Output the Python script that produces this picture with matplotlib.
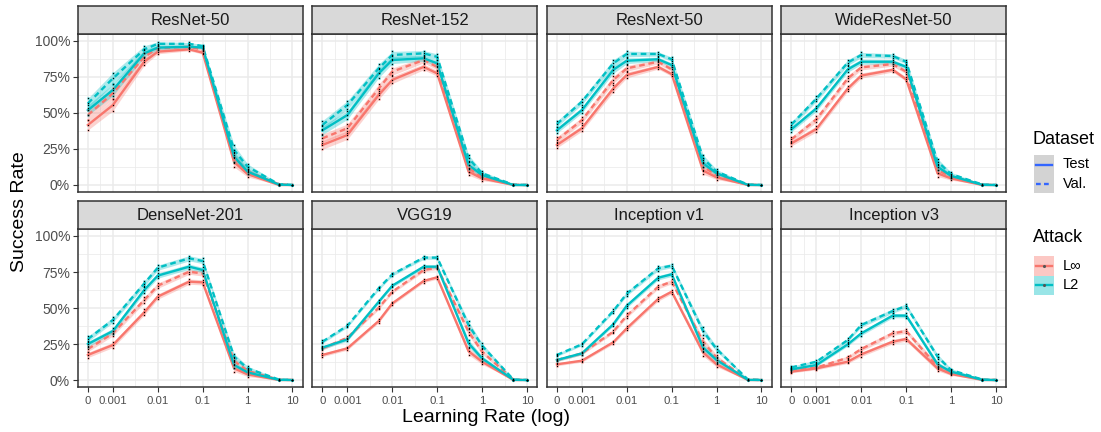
import numpy as np
import matplotlib
matplotlib.use("Agg")
import matplotlib.pyplot as plt
from matplotlib.patches import Rectangle
from matplotlib.lines import Line2D

plt.rcParams['font.family'] = ['Liberation Sans', 'DejaVu Sans']

# ---------------- data ----------------
learning_rates = [0, 0.001, 0.005, 0.01, 0.05, 0.1, 0.5, 1, 5, 10]
x_ticks = [0, 0.001, 0.01, 0.1, 1, 10]
x_tick_labels = ["0", "0.001", "0.01", "0.1", "1", "10"]
y_ticks = [0, 0.25, 0.5, 0.75, 1.0]
y_tick_labels = ["0%", "25%", "50%", "75%", "100%"]

models = ["ResNet-50", "ResNet-152", "ResNext-50", "WideResNet-50",
          "DenseNet-201", "VGG19", "Inception v1", "Inception v3"]

# rows: [Linf Test, Linf Val., L2 Test, L2 Val.]
resnet50 = [
    [0.417, 0.555, 0.856, 0.926, 0.942, 0.919, 0.160, 0.076, 0.000, 0.000],
    [0.486, 0.637, 0.890, 0.950, 0.960, 0.940, 0.185, 0.093, 0.005, 0.000],
    [0.520, 0.660, 0.914, 0.954, 0.960, 0.954, 0.197, 0.093, 0.003, 0.000],
    [0.567, 0.740, 0.942, 0.980, 0.980, 0.965, 0.243, 0.127, 0.005, 0.000],
]
resnet152 = [
    [0.278, 0.347, 0.625, 0.730, 0.820, 0.775, 0.093, 0.046, 0.000, 0.000],
    [0.324, 0.394, 0.670, 0.787, 0.868, 0.820, 0.116, 0.058, 0.002, 0.000],
    [0.380, 0.486, 0.775, 0.868, 0.880, 0.845, 0.139, 0.069, 0.000, 0.000],
    [0.417, 0.555, 0.810, 0.903, 0.914, 0.890, 0.185, 0.081, 0.002, 0.000],
]
resnext50 = [
    [0.278, 0.394, 0.670, 0.764, 0.820, 0.770, 0.100, 0.053, 0.000, 0.000],
    [0.313, 0.450, 0.730, 0.810, 0.856, 0.803, 0.127, 0.070, 0.002, 0.000],
    [0.380, 0.520, 0.800, 0.863, 0.873, 0.833, 0.150, 0.081, 0.001, 0.000],
    [0.424, 0.579, 0.845, 0.910, 0.910, 0.873, 0.185, 0.093, 0.003, 0.000],
]
wideresnet50 = [
    [0.289, 0.389, 0.670, 0.760, 0.800, 0.734, 0.081, 0.046, 0.000, 0.000],
    [0.317, 0.456, 0.740, 0.817, 0.840, 0.787, 0.104, 0.058, 0.002, 0.000],
    [0.387, 0.532, 0.803, 0.856, 0.856, 0.820, 0.127, 0.063, 0.001, 0.000],
    [0.420, 0.600, 0.850, 0.903, 0.896, 0.856, 0.162, 0.076, 0.003, 0.000],
]
densenet201 = [
    [0.174, 0.243, 0.470, 0.579, 0.683, 0.678, 0.081, 0.039, 0.000, 0.000],
    [0.215, 0.324, 0.556, 0.655, 0.752, 0.740, 0.132, 0.063, 0.002, 0.000],
    [0.250, 0.340, 0.625, 0.725, 0.787, 0.764, 0.104, 0.053, 0.001, 0.000],
    [0.285, 0.417, 0.670, 0.780, 0.845, 0.826, 0.162, 0.081, 0.003, 0.000],
]
vgg19 = [
    [0.174, 0.220, 0.410, 0.532, 0.688, 0.713, 0.200, 0.127, 0.000, 0.000],
    [0.220, 0.294, 0.502, 0.613, 0.764, 0.780, 0.336, 0.197, 0.002, 0.000],
    [0.225, 0.282, 0.544, 0.655, 0.787, 0.787, 0.255, 0.150, 0.001, 0.000],
    [0.266, 0.377, 0.637, 0.734, 0.850, 0.850, 0.382, 0.238, 0.003, 0.000],
]
inception_v1 = [
    [0.109, 0.134, 0.262, 0.359, 0.563, 0.613, 0.192, 0.109, 0.000, 0.000],
    [0.139, 0.185, 0.336, 0.447, 0.648, 0.683, 0.266, 0.155, 0.002, 0.000],
    [0.139, 0.185, 0.387, 0.516, 0.710, 0.734, 0.225, 0.139, 0.001, 0.000],
    [0.174, 0.248, 0.479, 0.600, 0.775, 0.794, 0.340, 0.215, 0.003, 0.000],
]
inception_v3 = [
    [0.058, 0.081, 0.127, 0.178, 0.266, 0.285, 0.081, 0.042, 0.000, 0.000],
    [0.065, 0.086, 0.155, 0.215, 0.324, 0.340, 0.093, 0.051, 0.002, 0.000],
    [0.074, 0.104, 0.248, 0.324, 0.447, 0.447, 0.109, 0.058, 0.001, 0.000],
    [0.088, 0.127, 0.278, 0.382, 0.479, 0.514, 0.162, 0.069, 0.003, 0.000],
]
all_results = [resnet50, resnet152, resnext50, wideresnet50,
               densenet201, vgg19, inception_v1, inception_v3]

# ribbon half-width (run-to-run spread) per model
spread_resnet50 = [0.035, 0.040, 0.025, 0.015, 0.010, 0.010, 0.035, 0.020, 0.003, 0.002]
spread_resnet152 = [0.030, 0.030, 0.030, 0.025, 0.020, 0.020, 0.025, 0.015, 0.003, 0.002]
spread_resnext50 = [0.020, 0.020, 0.025, 0.020, 0.015, 0.015, 0.025, 0.015, 0.003, 0.002]
spread_wideresnet50 = [0.018, 0.020, 0.020, 0.018, 0.015, 0.015, 0.022, 0.012, 0.003, 0.002]
spread_densenet201 = [0.018, 0.018, 0.020, 0.018, 0.018, 0.018, 0.022, 0.015, 0.003, 0.002]
spread_vgg19 = [0.012, 0.012, 0.012, 0.012, 0.012, 0.012, 0.025, 0.018, 0.003, 0.002]
spread_inception_v1 = [0.010, 0.010, 0.012, 0.015, 0.015, 0.015, 0.025, 0.018, 0.003, 0.002]
spread_inception_v3 = [0.008, 0.010, 0.012, 0.015, 0.015, 0.015, 0.018, 0.010, 0.003, 0.002]
all_spreads = [spread_resnet50, spread_resnet152, spread_resnext50, spread_wideresnet50,
               spread_densenet201, spread_vgg19, spread_inception_v1, spread_inception_v3]

attacks = ["L\u221e", "L2"]
datasets = ["Test", "Val."]

# ---------------- style ----------------
W, H = 1101, 432
RED = "#F8766D"
TEAL = "#00BFC4"
attack_colors = [RED, TEAL]
dataset_styles = ["-", "--"]
ZERO_LOG = -3.556   # position of lr = 0 on the log axis


def fwd(x):
    x = np.asarray(x, dtype=float)
    safe = np.where(x > 0, x, 1.0)
    return np.where(x > 0, np.log10(safe), ZERO_LOG)


def inv(t):
    return np.power(10.0, np.asarray(t, dtype=float))


tmin, tmax = ZERO_LOG, 1.0
pad = 0.05 * (tmax - tmin)
xlim = (10 ** (tmin - pad), 10 ** (tmax + pad))

tick_t = fwd(x_ticks)
minor_x = inv((tick_t[:-1] + tick_t[1:]) / 2)
minor_y = [0.125, 0.375, 0.625, 0.875]

fig = plt.figure(figsize=(W / 100, H / 100), dpi=100)


def fig_rect(x0, y0, x1, y1):
    return [x0 / W, 1 - y1 / H, (x1 - x0) / W, (y1 - y0) / H]


panel_left0 = 77.7
panel_step = 234.5
panel_w = 225.0
rows_y = [(33.8, 192.2, 5.5), (228.8, 387.2, 201.0)]

for i, name in enumerate(models):
    r, c = divmod(i, 4)
    x0 = panel_left0 + c * panel_step
    x1 = x0 + panel_w
    py0, py1, sy0 = rows_y[r]
    ax = fig.add_axes(fig_rect(x0, py0, x1, py1))
    ax.set_xscale('function', functions=(fwd, inv))
    ax.set_facecolor("white")
    for xv in minor_x:
        ax.axvline(xv, color="#EBEBEB", lw=0.55, zorder=0)
    for yv in minor_y:
        ax.axhline(yv, color="#EBEBEB", lw=0.55, zorder=0)
    for xv in x_ticks:
        ax.axvline(xv, color="#EBEBEB", lw=1.1, zorder=0)
    for yv in y_ticks:
        ax.axhline(yv, color="#EBEBEB", lw=1.1, zorder=0)

    res = all_results[i]
    spr = np.array(all_spreads[i])
    lr = np.array(learning_rates)
    for a in range(2):
        for d in range(2):
            m = np.array(res[a * 2 + d])
            col = attack_colors[a]
            lo = np.clip(m - spr, 0, None)
            hi = m + spr
            ax.fill_between(lr, lo, hi, color=col, alpha=0.32, lw=0, zorder=2)
    for a in range(2):
        for d in range(2):
            m = np.array(res[a * 2 + d])
            col = attack_colors[a]
            lo = np.clip(m - spr, 0, None)
            hi = m + spr
            ax.plot(lr, m, color=col, lw=1.7, ls=dataset_styles[d],
                    dashes=(2.4, 1.6) if d == 1 else (None, None), zorder=3)
            for arr in (lo, m, hi):
                ax.scatter(lr, arr, s=5, color=col, alpha=0.4, lw=0, zorder=4)
                ax.scatter(lr, arr, s=0.9, color="black", lw=0, zorder=5)

    ax.set_xticks(x_ticks)
    ax.set_xticks([], minor=True)
    ax.set_yticks(y_ticks)
    ax.set_yticks([], minor=True)
    ax.set_xlim(*xlim)
    ax.set_ylim(-0.05, 1.05)
    for sp in ax.spines.values():
        sp.set_color("#333333")
        sp.set_linewidth(1.1)
    ax.tick_params(axis="both", which="major", length=3.5, width=0.8, color="#333333",
                   labelcolor="#4D4D4D", labelsize=10, pad=2)
    ax.tick_params(axis="x", labelsize=8.2, pad=3)
    if r == 1:
        ax.set_xticklabels(x_tick_labels)
    else:
        ax.set_xticklabels([])
        ax.tick_params(axis="x", length=0)
    if c == 0:
        ax.set_yticklabels(y_tick_labels)
    else:
        ax.set_yticklabels([])
        ax.tick_params(axis="y", length=0)

    sax = fig.add_axes(fig_rect(x0, sy0, x1, py0))
    sax.set_facecolor("#D9D9D9")
    sax.set_xticks([])
    sax.set_yticks([])
    for sp in sax.spines.values():
        sp.set_color("#333333")
        sp.set_linewidth(1.1)
    sax.text(0.5, 0.47, name, ha="center", va="center", fontsize=12,
             color="#1A1A1A", transform=sax.transAxes)

# axis titles
fig.text(486 / W, 1 - 417 / H, "Learning Rate (log)", ha="center", va="center",
         fontsize=14, color="black")
fig.text(20 / W, 1 - 212 / H, "Success Rate", ha="center", va="center",
         rotation=90, fontsize=14, color="black")

# legend (drawn in pixel coordinates)
lax = fig.add_axes([0, 0, 1, 1])
lax.set_xlim(0, W)
lax.set_ylim(H, 0)
lax.axis("off")
lax.patch.set_alpha(0)

lax.text(1033, 139, "Dataset", fontsize=13, va="center", ha="left")
for k, (lab, ls) in enumerate(zip(datasets, dataset_styles)):
    ky = 155 + k * 19
    lax.add_patch(Rectangle((1034, ky), 20, 19, facecolor="#D3D3D3", edgecolor="none"))
    lax.add_line(Line2D([1036, 1052], [ky + 9.5, ky + 9.5], color="#3366FF", lw=1.7,
                        ls=ls, dashes=(2.0, 1.4) if ls == "--" else (None, None)))
    lax.text(1063, ky + 9.5, lab, fontsize=10.5, va="center", ha="left")

lax.text(1033, 238, "Attack", fontsize=13, va="center", ha="left")
for k, (lab, col) in enumerate(zip(attacks, attack_colors)):
    ky = 256 + k * 19.5
    lax.add_patch(Rectangle((1034, ky), 20, 19.5, facecolor=col, alpha=0.4, edgecolor="none"))
    lax.add_line(Line2D([1036, 1052], [ky + 9.75, ky + 9.75], color=col, lw=1.7))
    lax.scatter([1044], [ky + 9.75], s=5, color="#555555", lw=0, zorder=5)
    lax.text(1063, ky + 9.75, lab, fontsize=10.5, va="center", ha="left")

fig.savefig("out.png", dpi=100, facecolor="white")
